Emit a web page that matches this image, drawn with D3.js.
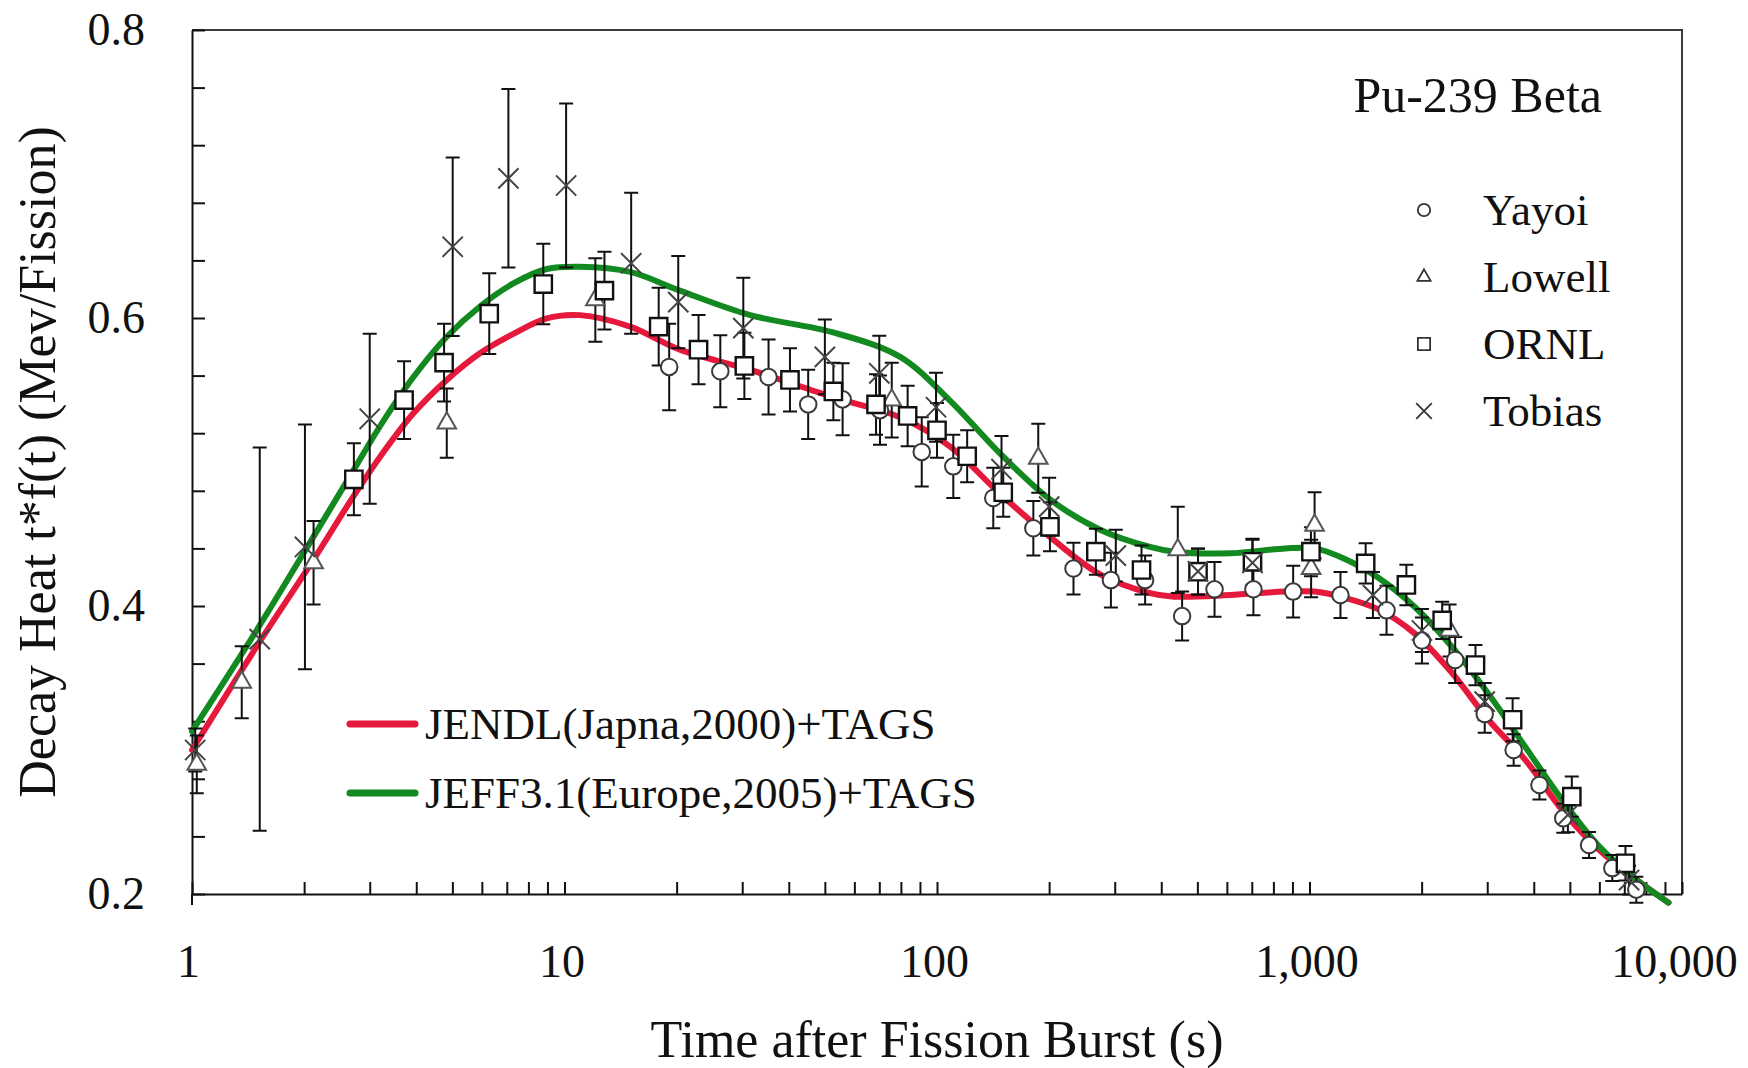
<!DOCTYPE html>
<html>
<head>
<meta charset="utf-8">
<script src="https://cdn.jsdelivr.net/npm/d3@7"></script>
<style>
  body { margin: 0; background: #ffffff; }
  svg { display: block; }
  text { font-family: "Liberation Serif", "Times New Roman", serif; fill: #111; }
</style>
</head>
<body>
<svg width="1748" height="1068"></svg>
<script>
//--Data
// calculated curves (time in s, decay heat in MeV/fission)
const curveTime  = [1, 1.49, 2.118, 2.71, 3.2, 3.93, 4.83, 5.93, 7.29, 8.96, 11, 15, 20.4, 31.5, 52.6, 79.6, 108, 147.6, 201, 274, 373, 433, 610, 860, 1032, 1211, 1523, 1914, 2405, 3021, 3800, 4776, 6000, 7540, 9200];
const jendlValue = [0.300, 0.3717, 0.432, 0.476, 0.5037, 0.5338, 0.557, 0.5755, 0.589, 0.5998, 0.602, 0.594, 0.578, 0.564, 0.545, 0.531, 0.511, 0.478, 0.448, 0.422, 0.409, 0.4065, 0.4076, 0.41, 0.41, 0.4065, 0.398, 0.381, 0.354, 0.321, 0.293, 0.258, 0.2306, 0.21, 0.194];
const jeffValue  = [0.313, 0.383, 0.448, 0.494, 0.525, 0.559, 0.587, 0.608, 0.624, 0.634, 0.6356, 0.632, 0.619, 0.602, 0.59, 0.573, 0.543, 0.506, 0.474, 0.453, 0.441, 0.4377, 0.4366, 0.44, 0.44, 0.434, 0.42, 0.3995, 0.372, 0.339, 0.302, 0.265, 0.233, 0.21, 0.194];

// measurements: [time, value, error]
const yayoi = [
  [19.1, 0.566, 0.03], [26.2, 0.563, 0.025], [35.3, 0.559, 0.026], [45.1, 0.540, 0.024],
  [55.8, 0.5435, 0.025], [70.3, 0.536, 0.024], [91, 0.507, 0.024], [110.6, 0.497, 0.022],
  [141.6, 0.475, 0.021], [181.4, 0.454, 0.019], [232.5, 0.426, 0.018], [293, 0.418, 0.019],
  [362, 0.418, 0.017], [455, 0.393, 0.017], [556, 0.4116, 0.019], [707, 0.4116, 0.018],
  [904, 0.41, 0.018], [1211, 0.4076, 0.016], [1610, 0.397, 0.017], [2004, 0.376, 0.016],
  [2461, 0.3625, 0.016], [2954, 0.325, 0.013], [3532, 0.30, 0.011], [4143, 0.2757, 0.01],
  [4800, 0.2526, 0.01], [5630, 0.234, 0.009], [6500, 0.218, 0.009], [7540, 0.203, 0.009]
];
const lowell = [
  [1.03, 0.29, 0.02], [1.36, 0.347, 0.025], [2.12, 0.43, 0.029], [4.83, 0.527, 0.024],
  [12.1, 0.6125, 0.029], [75.6, 0.543, 0.026], [187, 0.5026, 0.024], [443, 0.439, 0.03],
  [1010, 0.426, 0.02], [1032, 0.456, 0.023], [2377, 0.383, 0.018]
];
const ornl = [
  [2.72, 0.488, 0.025], [3.71, 0.543, 0.027], [4.75, 0.569, 0.027], [6.28, 0.603, 0.028],
  [8.77, 0.6236, 0.028], [12.8, 0.619, 0.027], [17.9, 0.594, 0.027], [22.9, 0.578, 0.024],
  [30.4, 0.5667, 0.023], [40.3, 0.557, 0.022], [52.7, 0.549, 0.02], [68.6, 0.54, 0.021],
  [83.4, 0.532, 0.021], [100, 0.522, 0.019], [120.5, 0.504, 0.018], [150.6, 0.479, 0.017],
  [201, 0.455, 0.017], [267, 0.4377, 0.016], [354, 0.425, 0.017], [502, 0.4238, 0.016],
  [703, 0.4307, 0.016], [1009, 0.4377, 0.017], [1415, 0.4296, 0.014], [1820, 0.4146, 0.014],
  [2271, 0.39, 0.013], [2790, 0.359, 0.014], [3510, 0.321, 0.015], [5060, 0.2676, 0.014],
  [7050, 0.2213, 0.012]
];
const tobias = [
  [1.02, 0.30, 0.015], [1.52, 0.377, 0.133], [2.01, 0.441, 0.085], [3.0, 0.53, 0.059],
  [5.01, 0.6495, 0.062], [7.07, 0.697, 0.062], [10.1, 0.692, 0.057], [15.1, 0.638, 0.049],
  [20.2, 0.611, 0.032], [30.2, 0.593, 0.035], [50, 0.573, 0.026], [70, 0.5616, 0.026],
  [99.4, 0.538, 0.024], [149, 0.495, 0.023], [200, 0.469, 0.02], [302, 0.435, 0.018],
  [502, 0.424, 0.016], [703, 0.43, 0.016], [1480, 0.4076, 0.016], [2004, 0.383, 0.015],
  [2954, 0.3336, 0.013], [4940, 0.2549, 0.012], [7210, 0.2097, 0.01]
];

// axes
const xDecades = [1, 10, 100, 1000, 10000];
const xDecadeLabels = ["1", "10", "100", "1,000", "10,000"];
const yMajor = [0.2, 0.4, 0.6, 0.8];

// legends
const seriesNames = ["Yayoi", "Lowell", "ORNL", "Tobias"];
const curveNames = ["JENDL(Japna,2000)+TAGS", "JEFF3.1(Europe,2005)+TAGS"];


//--Canvas
const plot = {left: 192, right: 1682, top: 30, bottom: 894};
const red = "#e6193c", green = "#138a1f";

const root = d3.select("svg");
const x = d3.scaleLog().domain([1, 10000]).range([plot.left, plot.right]);
const y = d3.scaleLinear().domain([0.2, 0.8]).range([plot.bottom, plot.top]);


//--Frame and axes
root.append("path")
  .attr("d", `M${plot.left},${plot.top}H${plot.right}V${plot.bottom}`)
  .attr("fill", "none")
  .attr("stroke", "#3a3a3a")
  .attr("stroke-width", 2);

let xTicks = [];
xDecades.slice(0, 4).forEach(d => { for (let k = 1; k < 10; k++) xTicks.push(k * d); });
xTicks.push(10000);

const xAxis = d3.axisBottom(x)
  .tickValues(xTicks)
  .tickSizeInner(-12)
  .tickSizeOuter(0)
  .tickPadding(50)
  .tickFormat(d => {
    const i = xDecades.indexOf(d);
    return i < 0 ? "" : xDecadeLabels[i];
  });
const gx = root.append("g")
  .attr("transform", `translate(0,${plot.bottom})`)
  .call(xAxis);
gx.selectAll("line").attr("stroke", "#111").attr("stroke-width", 2);
gx.select(".domain").attr("stroke", "#111").attr("stroke-width", 2);
gx.selectAll("text")
  .style("font-family", '"Liberation Serif", serif')
  .style("font-size", "46px")
  .attr("fill", "#111")
  .attr("dx", d => d === 1 ? -4 : (d === 10000 ? -8 : -3));

const yAxis = d3.axisLeft(y)
  .tickValues(d3.range(0, 16).map(i => +(0.2 + i * 0.04).toFixed(2)))
  .tickSizeInner(-13)
  .tickSizeOuter(0)
  .tickPadding(47)
  .tickFormat(d => yMajor.some(m => Math.abs(m - d) < 1e-6) ? d.toFixed(1) : "");
const gy = root.append("g")
  .attr("transform", `translate(${plot.left},0)`)
  .call(yAxis);
gy.selectAll("line").attr("stroke", "#111").attr("stroke-width", 2);
gy.select(".domain").attr("stroke", "#111").attr("stroke-width", 2);
gy.selectAll("text")
  .style("font-family", '"Liberation Serif", serif')
  .style("font-size", "46px")
  .attr("fill", "#111");

// left axis runs a little below the frame
root.append("line")
  .attr("x1", plot.left).attr("x2", plot.left)
  .attr("y1", plot.bottom).attr("y2", plot.bottom + 11)
  .attr("stroke", "#111").attr("stroke-width", 2);

// axis titles
root.append("text")
  .attr("x", (plot.left + plot.right) / 2)
  .attr("y", 1057)
  .attr("text-anchor", "middle")
  .style("font-size", "52px")
  .text("Time after Fission Burst (s)");
root.append("text")
  .attr("transform", `translate(55,${(plot.top + plot.bottom) / 2})rotate(-90)`)
  .attr("text-anchor", "middle")
  .style("font-size", "52px")
  .text("Decay Heat t*f(t) (Mev/Fission)");


//--Calculated curves
const line = d3.line()
  .x(d => x(d[0]))
  .y(d => y(d[1]))
  .curve(d3.curveCatmullRom.alpha(0.5));
[[jendlValue, red], [jeffValue, green]].forEach(([vals, color]) => {
  root.append("path")
    .datum(curveTime.map((t, i) => [t, vals[i]]))
    .attr("fill", "none")
    .attr("stroke", color)
    .attr("stroke-width", 6)
    .attr("stroke-linecap", "round")
    .attr("d", line);
});


//--Measurements
const markers = {
  circle:   {type: d3.symbolCircle,   size: 215, stroke: "#3a3a3a", fill: "#fff", width: 2},
  triangle: {type: d3.symbolTriangle, size: 150, stroke: "#555",    fill: "#fff", width: 2},
  square:   {type: d3.symbolSquare,   size: 300, stroke: "#111",    fill: "#fff", width: 2.4},
  times:    {type: d3.symbolTimes,    size: 270, stroke: "#444",    fill: "none", width: 2}
};
const series = [
  {data: yayoi, mark: "circle"},
  {data: lowell, mark: "triangle"},
  {data: ornl, mark: "square"},
  {data: tobias, mark: "times"}
];

// error bars
const gErr = root.append("g")
  .attr("stroke", "#111")
  .attr("stroke-width", 2)
  .attr("fill", "none");
series.forEach(s => {
  gErr.selectAll(null)
    .data(s.data)
    .enter()
    .append("path")
    .attr("d", d => {
      const cx = x(d[0]), y0 = y(d[1] - d[2]), y1 = y(d[1] + d[2]);
      return `M${cx},${y0}V${y1}M${cx - 7},${y0}H${cx + 7}M${cx - 7},${y1}H${cx + 7}`;
    });
});

// markers
series.forEach(s => {
  const m = markers[s.mark];
  root.append("g")
    .selectAll("path")
    .data(s.data)
    .enter()
    .append("path")
    .attr("transform", d => `translate(${x(d[0])},${y(d[1])})`)
    .attr("d", d3.symbol().type(m.type).size(m.size))
    .attr("fill", m.fill)
    .attr("stroke", m.stroke)
    .attr("stroke-width", m.width);
});


//--Title and legends
root.append("text")
  .attr("x", 1602)
  .attr("y", 112)
  .attr("text-anchor", "end")
  .style("font-size", "50px")
  .text("Pu-239 Beta");

const legendMarks = [
  {type: d3.symbolCircle, size: 120},
  {type: d3.symbolTriangle, size: 75},
  {type: d3.symbolSquare, size: 150},
  {type: d3.symbolTimes, size: 160}
];
seriesNames.forEach((name, i) => {
  const ly = 210 + i * 67;
  root.append("path")
    .attr("transform", `translate(1424,${ly})`)
    .attr("d", d3.symbol().type(legendMarks[i].type).size(legendMarks[i].size))
    .attr("fill", i === 3 ? "none" : "#fff")
    .attr("stroke", "#333")
    .attr("stroke-width", 1.8);
  root.append("text")
    .attr("x", 1483)
    .attr("y", ly + 15)
    .style("font-size", "45px")
    .text(name);
});

curveNames.forEach((name, i) => {
  const ly = 724 + i * 69;
  root.append("line")
    .attr("x1", 350).attr("x2", 415)
    .attr("y1", ly).attr("y2", ly)
    .attr("stroke", i === 0 ? red : green)
    .attr("stroke-width", 7)
    .attr("stroke-linecap", "round");
  root.append("text")
    .attr("x", 425)
    .attr("y", ly + 15)
    .style("font-size", "45px")
    .text(name);
});
</script>
</body>
</html>
